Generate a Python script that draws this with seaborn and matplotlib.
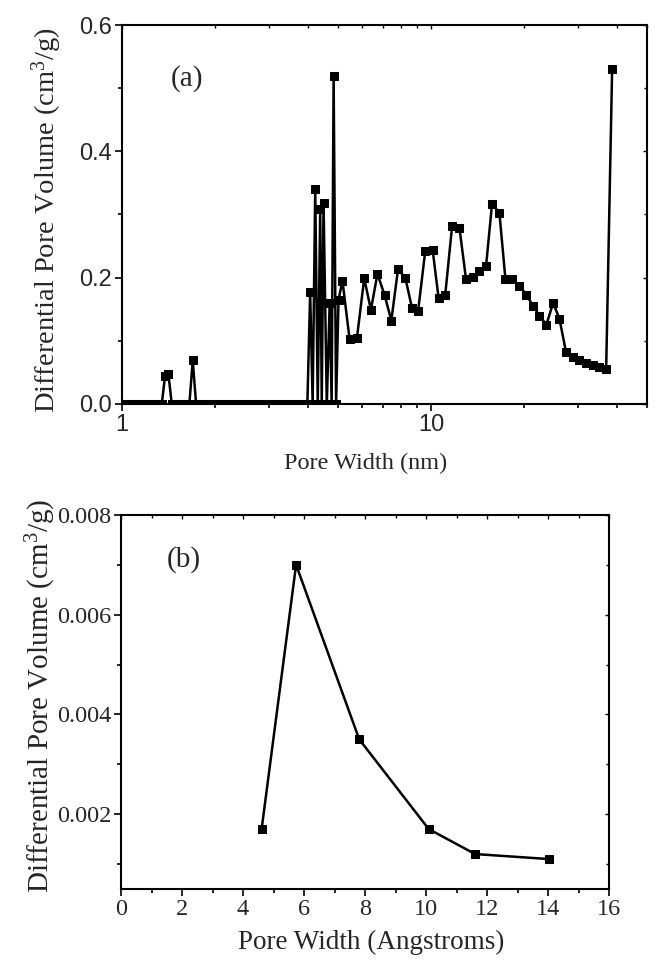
import numpy as np
import pandas as pd
import matplotlib
matplotlib.use("Agg")
import matplotlib.pyplot as plt
import seaborn as sns
from matplotlib.ticker import FixedLocator, MultipleLocator, FuncFormatter, NullFormatter

# (a) DFT pore size distribution, pore width in nm
width_nm = [
    1.00, 1.03, 1.06, 1.09, 1.12, 1.16, 1.19, 1.23, 1.27, 1.30, 1.345,
    1.378, 1.413, 1.449, 1.49, 1.54, 1.58, 1.652, 1.694, 1.737,
    1.79, 1.85, 1.90, 1.96, 2.02, 2.08, 2.14, 2.21, 2.27, 2.34, 2.41, 2.48,
    2.56, 2.63, 2.71, 2.79, 2.88, 2.96, 3.05, 3.14, 3.24, 3.33, 3.43, 3.54,
    3.64, 3.75, 3.87, 3.98,
    4.064, 4.14, 4.22, 4.30, 4.38, 4.43, 4.49, 4.60, 4.70, 4.77, 4.84, 4.93,
    5.02, 5.17, 5.45, 5.76, 6.08, 6.39, 6.71, 7.08, 7.44, 7.82, 8.26, 8.68,
    9.08, 9.58, 10.12, 10.58, 11.12, 11.70, 12.36, 12.98, 13.64, 14.27, 15.07,
    15.76, 16.65, 17.41, 18.30, 19.32, 20.36, 21.38, 22.43, 23.63, 24.85,
    26.04, 27.37, 28.75, 30.20, 31.75, 33.38, 35.09, 36.89, 38.57,
]
dv_nm = [
    0, 0, 0, 0, 0, 0, 0, 0, 0, 0, 0,
    0.044, 0.047, 0, 0, 0, 0, 0, 0.069, 0,
    0, 0, 0, 0, 0, 0, 0, 0, 0, 0, 0, 0,
    0, 0, 0, 0, 0, 0, 0, 0, 0, 0, 0, 0,
    0, 0, 0, 0,
    0.177, 0, 0.340, 0, 0.308, 0, 0.3185, 0, 0.160, 0, 0.520, 0,
    0.165, 0.195, 0.103, 0.105, 0.199, 0.149, 0.206, 0.172, 0.132, 0.213, 0.1995, 0.152,
    0.1465, 0.242, 0.2445, 0.168, 0.173, 0.281, 0.279, 0.198, 0.201, 0.210, 0.218,
    0.317, 0.3025, 0.198, 0.198, 0.187, 0.173, 0.1555, 0.140, 0.1255, 0.160,
    0.135, 0.0815, 0.075, 0.070, 0.0655, 0.062, 0.059, 0.0556, 0.531,
]

# (b) micropore distribution, pore width in Angstroms
width_ang = [4.61, 5.74, 7.81, 10.09, 11.61, 14.02]
dv_ang = [0.0017, 0.0070, 0.0035, 0.0017, 0.0012, 0.0011]

# tick positions
xmaj_a, xmin_a = [1, 10], [2, 3, 4, 5, 6, 7, 8, 9, 20, 30, 40, 50]
ymaj_a, ymin_a = [0, 0.2, 0.4, 0.6], [0.1, 0.3, 0.5]
xmaj_b, xmin_b = list(range(0, 17, 2)), list(range(1, 16, 2))
ymaj_b, ymin_b = [0.002, 0.004, 0.006, 0.008], [0.001, 0.003, 0.005, 0.007]

df_a = pd.DataFrame({"w": width_nm, "v": dv_nm})
df_b = pd.DataFrame({"w": width_ang, "v": dv_ang})

sns.set_style("ticks")
plt.rcParams["font.family"] = ["Liberation Serif", "DejaVu Serif"]
plt.rcParams["axes.linewidth"] = 1.5

fig = plt.figure(figsize=(6.62, 9.69), dpi=100)
ax1 = fig.add_axes([0.1843, 0.5831, 0.7930, 0.3911])
ax2 = fig.add_axes([0.1828, 0.0826, 0.7372, 0.3860])

line_kw = dict(color="black", linewidth=1.8, marker="s", markersize=5.4,
               markeredgecolor="black", markerfacecolor="black",
               estimator=None, sort=False, legend=False)

# ---- panel (a)
sns.lineplot(data=df_a, x="w", y="v", ax=ax1, **line_kw)
ax1.set_xscale("log")
ax1.set_xlim(1, 50)
ax1.set_ylim(0, 0.6)
ax1.xaxis.set_major_formatter(FuncFormatter(lambda v, p: f"{v:g}"))
ax1.yaxis.set_major_formatter(FuncFormatter(lambda v, p: f"{v:.1f}"))
ax1.text(0.092, 0.86, "(a)", transform=ax1.transAxes, fontsize=21, va="center")
ax1.set_xlabel("Pore Width (nm)", fontsize=17.5)
ax1.set_ylabel(r"Differential Pore Volume (cm$\mathregular{^3}$/g)", fontsize=20.5)
ax1.xaxis.set_label_coords(0.464, -0.156)
ax1.yaxis.set_label_coords(-0.143, 0.485)

# ---- panel (b)
sns.lineplot(data=df_b, x="w", y="v", ax=ax2, **line_kw)
ax2.set_xlim(0, 16)
ax2.set_ylim(0.0005, 0.008)
ax2.yaxis.set_major_formatter(FuncFormatter(lambda v, p: f"{v:.3f}"))
ax2.text(0.094, 0.88, "(b)", transform=ax2.transAxes, fontsize=21, va="center")
ax2.set_xlabel("Pore Width (Angstroms)", fontsize=19.5)
ax2.set_ylabel(r"Differential Pore Volume (cm$\mathregular{^3}$/g)", fontsize=21)
ax2.xaxis.set_label_coords(0.512, -0.142)
ax2.yaxis.set_label_coords(-0.164, 0.516)

panels = [(ax1, xmaj_a, xmin_a, ymaj_a, ymin_a), (ax2, xmaj_b, xmin_b, ymaj_b, ymin_b)]
for ax, xmaj, xmin, ymaj, ymin in panels:
    ax.xaxis.set_major_locator(FixedLocator(xmaj))
    ax.xaxis.set_minor_locator(FixedLocator(xmin))
    ax.xaxis.set_minor_formatter(NullFormatter())
    ax.yaxis.set_major_locator(FixedLocator(ymaj))
    ax.yaxis.set_minor_locator(FixedLocator(ymin))
    # Origin-like frame: outward ticks bottom/left
    ax.tick_params(which="both", direction="out", width=1.2, color="black", pad=2)
    ax.tick_params(which="major", length=5)
    ax.tick_params(which="minor", length=3)
    ax.xaxis.label.set_verticalalignment("center")
    ax.yaxis.label.set_verticalalignment("center")
    for s in ax.spines.values():
        s.set_color("black")
    # short inward ticks on top/right, no labels
    top = ax.secondary_xaxis("top")
    right = ax.secondary_yaxis("right")
    top.xaxis.set_major_locator(FixedLocator(xmaj))
    top.xaxis.set_minor_locator(FixedLocator(xmin))
    right.yaxis.set_major_locator(FixedLocator(ymaj))
    right.yaxis.set_minor_locator(FixedLocator(ymin))
    top.tick_params(which="both", direction="in", width=1.0, color="black",
                    labeltop=False, labelbottom=False)
    right.tick_params(which="both", direction="in", width=1.0, color="black",
                      labelright=False, labelleft=False)
    for sec in (top, right):
        sec.tick_params(which="major", length=3)
        sec.tick_params(which="minor", length=2)
        sec.spines[:].set_visible(False)

for lab in ax1.get_xticklabels() + ax1.get_yticklabels():
    lab.set_fontfamily(["Liberation Sans", "DejaVu Sans"])
    lab.set_fontsize(17)
ax2.tick_params(axis="both", which="major", labelsize=17.5)

fig.savefig("out.png", dpi=100)
